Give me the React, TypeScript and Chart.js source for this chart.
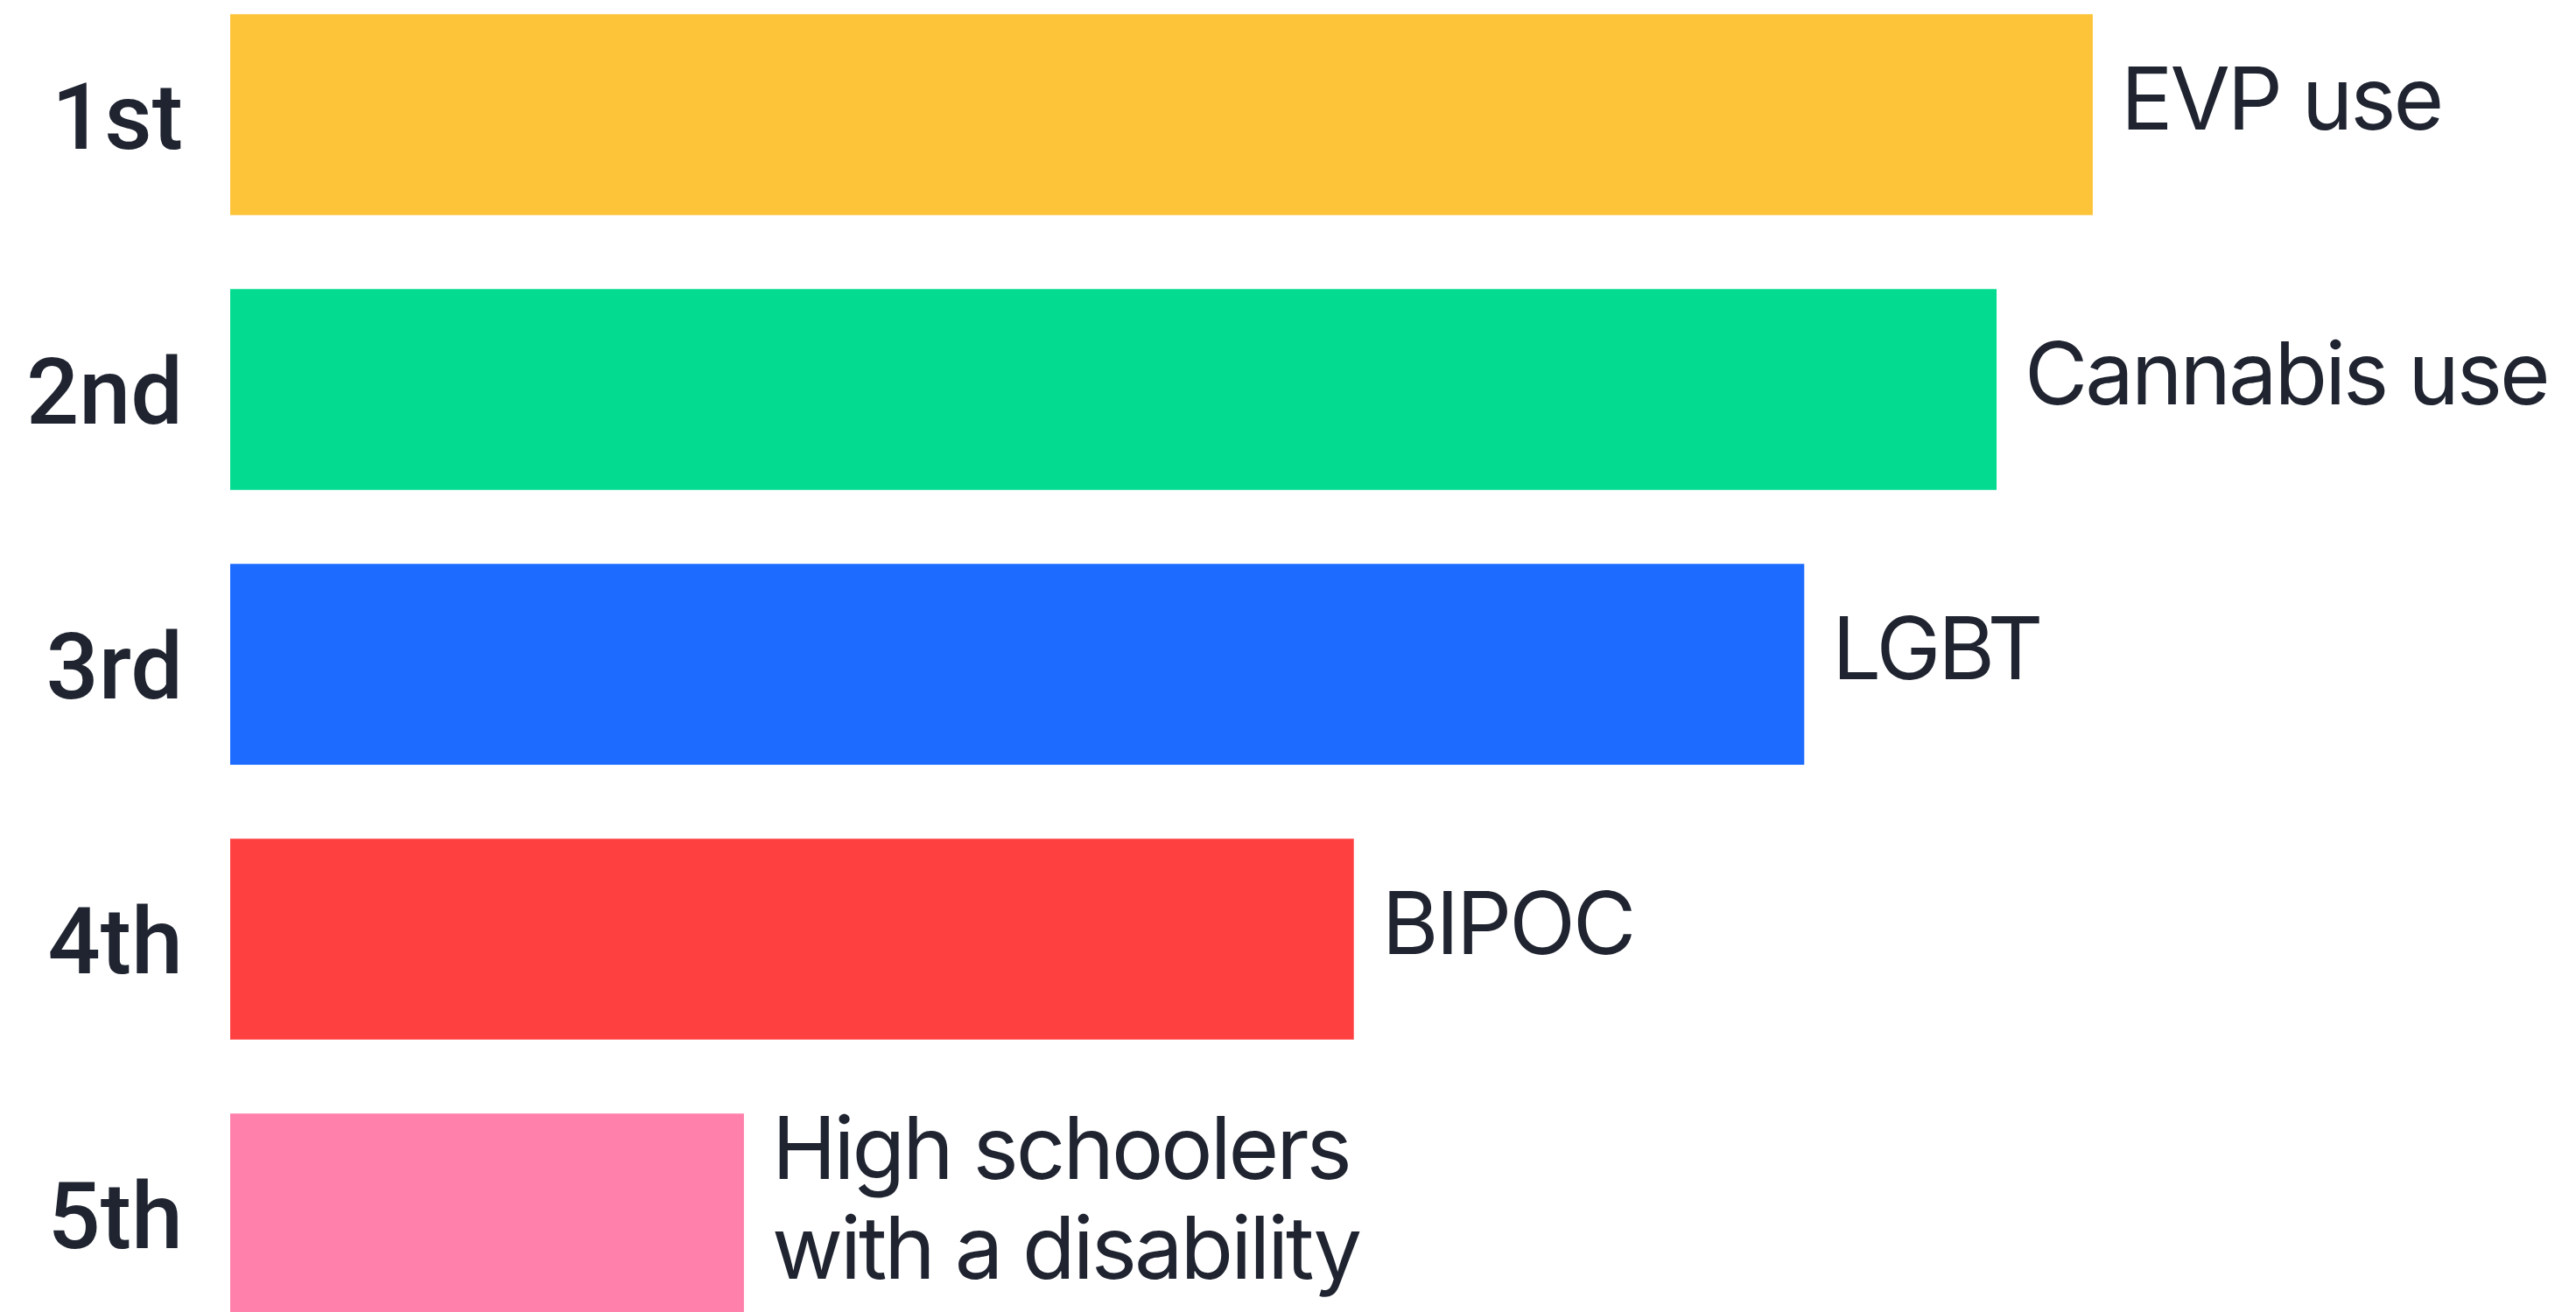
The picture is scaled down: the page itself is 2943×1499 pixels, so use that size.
import React, { useEffect, useRef } from "react";
import { Chart, registerables } from "chart.js";

Chart.register(...registerables);

// Rank labels on the category axis
const ranks = ["1st", "2nd", "3rd", "4th", "5th"];
// Group named next to each bar (multi-line entries are arrays)
const groups: (string | string[])[] = [
  "EVP use",
  "Cannabis use",
  "LGBT",
  "BIPOC",
  ["High schoolers", "with a disability"],
];
// Relative score for each ranked group
const scores = [79.4, 75.3, 67.1, 47.9, 21.9];
const barColors = ["#FDC43A", "#02DB90", "#1E6CFF", "#FF4040", "#FF80AB"];

const TEXT_COLOR = "#1F2430";
const GROUP_FONT_SIZE = 99;
const GROUP_LINE_HEIGHT = 114;

const groupLabels = {
  id: "groupLabels",
  afterDatasetsDraw(chart: any) {
    const { ctx } = chart;
    const meta = chart.getDatasetMeta(0);
    ctx.save();
    ctx.font = `400 ${GROUP_FONT_SIZE}px Inter, "Noto Sans", sans-serif`;
    ctx.fillStyle = TEXT_COLOR;
    ctx.textAlign = "left";
    ctx.textBaseline = "alphabetic";
    if ("letterSpacing" in ctx) (ctx as any).letterSpacing = "-3px";
    const capHalf = (GROUP_FONT_SIZE * 0.727) / 2;
    meta.data.forEach((bar: any, i: number) => {
      const g = groups[i];
      const lines = Array.isArray(g) ? g : [g];
      const blockShift = ((lines.length - 1) * GROUP_LINE_HEIGHT) / 2;
      const firstBaseline = bar.y - 19 + capHalf - blockShift;
      lines.forEach((line, k) => {
        ctx.fillText(line, bar.x + 32, firstBaseline + k * GROUP_LINE_HEIGHT);
      });
    });
    ctx.restore();
  },
};

export default function App() {
  const canvasRef = useRef<HTMLCanvasElement | null>(null);

  useEffect(() => {
    document.body.style.margin = "0";
    document.body.style.background = "#ffffff";
    const canvas = canvasRef.current;
    if (!canvas) return;
    const chart = new Chart(canvas, {
      type: "bar",
      data: {
        labels: ranks,
        datasets: [
          {
            data: scores,
            backgroundColor: barColors,
            borderWidth: 0,
            categoryPercentage: 1,
            barPercentage: 0.731,
          },
        ],
      },
      options: {
        indexAxis: "y",
        responsive: false,
        animation: false,
        devicePixelRatio: 1,
        layout: { padding: 0 },
        plugins: {
          legend: { display: false },
          tooltip: { enabled: false },
        },
        scales: {
          x: {
            display: false,
            min: 0,
            max: 100,
          },
          y: {
            grid: { display: false, drawTicks: false },
            border: { display: false },
            afterFit: (scale: any) => {
              // fixed axis width; rank labels need no extra room above/below
              scale.width = 263;
              scale.paddingTop = 0;
              scale.paddingBottom = 0;
            },
            ticks: {
              padding: 54,
              labelOffset: 12,
              color: TEXT_COLOR,
              font: { family: "Roboto, Inter, sans-serif", size: 106, weight: "500" },
            },
          },
        },
      },
      plugins: [groupLabels],
    });
    return () => chart.destroy();
  }, []);

  return (
    <div
      style={{
        position: "absolute",
        left: 0,
        top: -26,
        width: 2943,
        height: 1570,
      }}
    >
      <canvas ref={canvasRef} width={2943} height={1570} style={{ display: "block" }} />
    </div>
  );
}
